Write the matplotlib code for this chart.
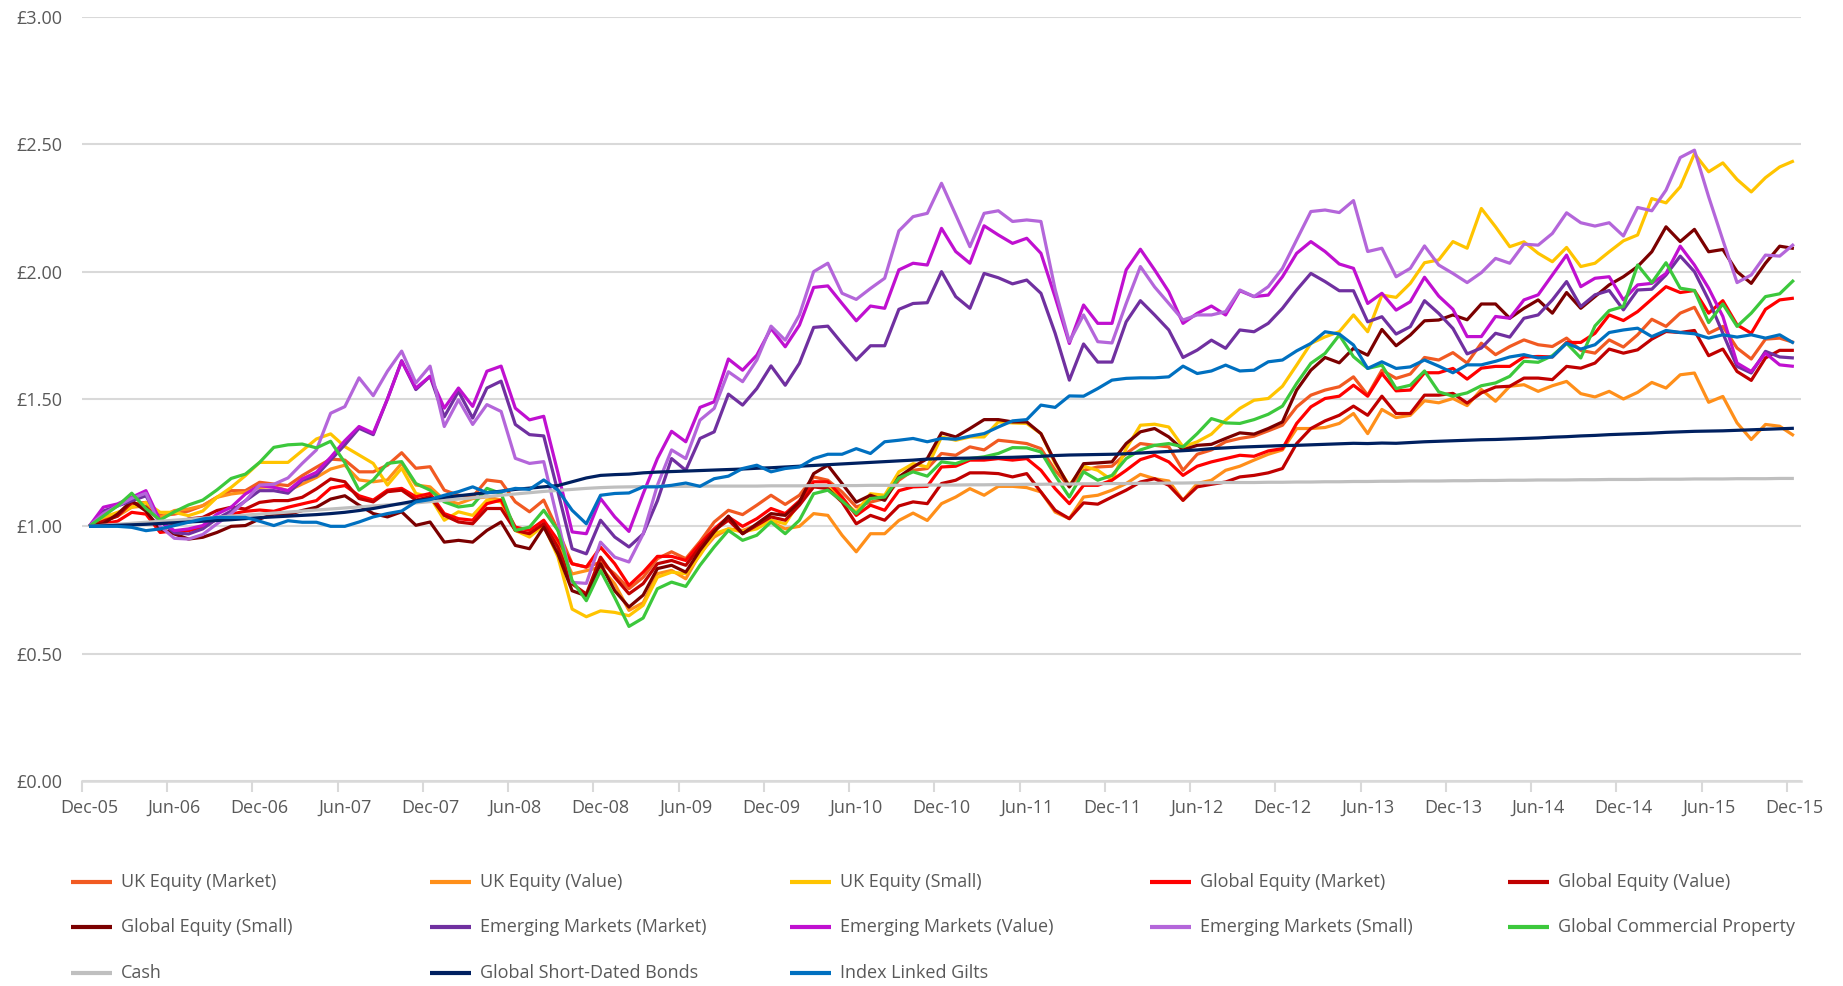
import numpy as np
import matplotlib
matplotlib.use("Agg")
import matplotlib.pyplot as plt
from matplotlib.lines import Line2D
from matplotlib.ticker import FixedLocator, FuncFormatter

# ---------------- data (monthly, Dec-05 .. Dec-15) ----------------
tick_labels = ["Dec-05", "Jun-06", "Dec-06", "Jun-07", "Dec-07", "Jun-08", "Dec-08",
               "Jun-09", "Dec-09", "Jun-10", "Dec-10", "Jun-11", "Dec-11", "Jun-12",
               "Dec-12", "Jun-13", "Dec-13", "Jun-14", "Dec-14", "Jun-15", "Dec-15"]

uk_market = [1.000,1.030,1.050,1.088,1.094,1.042,1.048,1.060,1.081,1.114,1.140,1.140,
             1.173,1.166,1.160,1.199,1.232,1.264,1.260,1.214,1.214,1.240,1.289,1.228,
             1.234,1.142,1.122,1.116,1.182,1.175,1.096,1.057,1.103,0.984,0.853,0.840,
             0.859,0.813,0.755,0.800,0.873,0.900,0.873,0.940,1.017,1.063,1.046,1.083,
             1.122,1.086,1.122,1.194,1.181,1.135,1.076,1.095,1.109,1.181,1.220,1.227,
             1.286,1.279,1.312,1.300,1.338,1.332,1.325,1.305,1.220,1.155,1.220,1.233,
             1.236,1.286,1.325,1.318,1.312,1.220,1.283,1.300,1.332,1.345,1.354,1.375,
             1.397,1.469,1.515,1.535,1.548,1.587,1.515,1.613,1.581,1.598,1.663,1.653,
             1.682,1.641,1.719,1.674,1.706,1.732,1.713,1.706,1.739,1.691,1.680,1.732,
             1.704,1.752,1.813,1.785,1.837,1.860,1.758,1.785,1.700,1.657,1.735,1.739,
             1.722]

uk_value = [1.000,1.020,1.040,1.075,1.080,1.035,1.062,1.068,1.081,1.114,1.127,1.134,
            1.153,1.156,1.140,1.166,1.192,1.225,1.240,1.182,1.175,1.182,1.247,1.162,
            1.155,1.103,1.089,1.109,1.116,1.103,0.984,0.971,1.004,0.930,0.813,0.826,
            0.840,0.774,0.670,0.700,0.814,0.827,0.794,0.893,0.958,0.990,0.984,1.004,
            1.017,0.990,1.000,1.050,1.043,0.965,0.900,0.971,0.971,1.023,1.052,1.023,
            1.089,1.115,1.148,1.122,1.157,1.157,1.152,1.135,1.056,1.030,1.115,1.122,
            1.142,1.168,1.204,1.187,1.178,1.102,1.168,1.181,1.220,1.236,1.260,1.283,
            1.300,1.384,1.384,1.388,1.404,1.443,1.364,1.459,1.427,1.436,1.493,1.485,
            1.502,1.474,1.537,1.491,1.550,1.556,1.530,1.552,1.569,1.521,1.508,1.530,
            1.500,1.526,1.565,1.543,1.595,1.602,1.487,1.510,1.406,1.341,1.400,1.393,
            1.356]

uk_small = [1.000,1.035,1.055,1.075,1.094,1.055,1.055,1.042,1.060,1.114,1.153,1.199,
            1.251,1.251,1.251,1.297,1.343,1.363,1.313,1.280,1.247,1.162,1.228,1.129,
            1.116,1.024,1.057,1.043,1.103,1.096,0.984,0.958,1.004,0.880,0.675,0.645,
            0.668,0.662,0.649,0.690,0.800,0.820,0.814,0.886,0.971,0.990,0.978,0.990,
            1.024,1.010,1.095,1.155,1.161,1.100,1.056,1.128,1.122,1.214,1.246,1.233,
            1.351,1.338,1.351,1.351,1.410,1.406,1.404,1.364,1.246,1.161,1.236,1.220,
            1.181,1.305,1.397,1.401,1.390,1.312,1.332,1.362,1.417,1.463,1.495,1.502,
            1.550,1.633,1.718,1.744,1.764,1.830,1.764,1.908,1.899,1.954,2.035,2.046,
            2.118,2.092,2.248,2.176,2.098,2.117,2.072,2.039,2.095,2.020,2.033,2.078,
            2.121,2.144,2.287,2.270,2.333,2.463,2.392,2.427,2.362,2.313,2.369,2.411,
            2.435]

global_market = [1.000,1.010,1.020,1.055,1.048,0.976,0.983,0.983,0.996,1.029,1.048,1.059,
                 1.064,1.059,1.075,1.088,1.101,1.150,1.160,1.120,1.103,1.142,1.149,1.116,
                 1.129,1.050,1.030,1.024,1.089,1.103,0.997,0.984,1.024,0.945,0.853,0.840,
                 0.918,0.853,0.768,0.820,0.882,0.882,0.866,0.932,0.990,1.037,1.000,1.030,
                 1.070,1.050,1.100,1.175,1.175,1.115,1.043,1.083,1.063,1.140,1.155,1.157,
                 1.233,1.236,1.260,1.260,1.266,1.260,1.266,1.220,1.148,1.089,1.161,1.161,
                 1.181,1.220,1.262,1.279,1.253,1.200,1.236,1.253,1.266,1.279,1.275,1.296,
                 1.305,1.404,1.469,1.502,1.511,1.554,1.511,1.600,1.532,1.535,1.603,1.603,
                 1.620,1.578,1.621,1.628,1.628,1.665,1.667,1.665,1.722,1.722,1.758,1.830,
                 1.808,1.843,1.892,1.941,1.918,1.926,1.837,1.886,1.791,1.758,1.852,1.889,
                 1.896]

global_value = [1.000,1.020,1.040,1.094,1.075,1.022,1.009,1.029,1.035,1.062,1.075,1.068,
                1.094,1.101,1.101,1.114,1.147,1.186,1.175,1.109,1.096,1.136,1.142,1.103,
                1.116,1.043,1.017,1.010,1.070,1.070,0.984,0.971,1.010,0.918,0.774,0.734,
                0.879,0.800,0.735,0.775,0.853,0.866,0.847,0.919,0.984,1.024,0.971,1.004,
                1.037,1.024,1.083,1.155,1.148,1.095,1.010,1.043,1.024,1.080,1.096,1.089,
                1.168,1.181,1.210,1.210,1.207,1.194,1.207,1.135,1.063,1.030,1.092,1.087,
                1.115,1.142,1.174,1.187,1.161,1.102,1.155,1.165,1.174,1.194,1.200,1.210,
                1.227,1.325,1.384,1.414,1.436,1.472,1.436,1.511,1.443,1.443,1.515,1.515,
                1.522,1.484,1.524,1.547,1.550,1.582,1.582,1.576,1.628,1.621,1.641,1.696,
                1.680,1.693,1.735,1.765,1.761,1.769,1.670,1.696,1.608,1.573,1.661,1.691,
                1.691]

global_small = [1.000,1.010,1.048,1.100,1.060,0.990,0.970,0.950,0.957,0.976,1.000,1.003,
                1.029,1.048,1.046,1.062,1.075,1.107,1.120,1.083,1.050,1.037,1.057,1.004,
                1.017,0.938,0.945,0.938,0.984,1.017,0.925,0.912,0.997,0.892,0.747,0.727,
                0.853,0.747,0.683,0.730,0.834,0.847,0.820,0.906,0.978,1.040,0.971,1.010,
                1.050,1.043,1.095,1.207,1.240,1.168,1.095,1.122,1.102,1.194,1.233,1.266,
                1.367,1.351,1.384,1.419,1.419,1.410,1.410,1.364,1.253,1.155,1.246,1.249,
                1.253,1.325,1.371,1.384,1.351,1.300,1.318,1.322,1.345,1.367,1.362,1.384,
                1.410,1.535,1.613,1.663,1.642,1.699,1.672,1.773,1.709,1.751,1.807,1.810,
                1.830,1.811,1.873,1.873,1.817,1.856,1.889,1.837,1.918,1.856,1.902,1.948,
                1.980,2.020,2.078,2.176,2.118,2.166,2.078,2.087,2.000,1.954,2.033,2.100,
                2.091]

em_market = [1.000,1.060,1.080,1.100,1.120,1.020,0.975,0.970,0.990,1.030,1.060,1.100,
             1.140,1.140,1.130,1.180,1.200,1.260,1.320,1.385,1.360,1.500,1.650,1.537,
             1.589,1.430,1.530,1.425,1.543,1.570,1.400,1.360,1.355,1.135,0.912,0.892,
             1.024,0.958,0.919,0.970,1.100,1.266,1.220,1.345,1.371,1.519,1.476,1.541,
             1.630,1.554,1.640,1.781,1.786,1.718,1.653,1.709,1.709,1.852,1.875,1.878,
             2.000,1.902,1.856,1.993,1.976,1.952,1.967,1.915,1.758,1.574,1.716,1.645,
             1.645,1.803,1.886,1.830,1.771,1.663,1.692,1.731,1.699,1.771,1.764,1.797,
             1.856,1.928,1.993,1.961,1.925,1.925,1.803,1.823,1.755,1.784,1.886,1.836,
             1.777,1.677,1.700,1.758,1.743,1.817,1.830,1.889,1.961,1.863,1.909,1.926,
             1.850,1.928,1.931,1.987,2.061,2.000,1.889,1.758,1.628,1.602,1.687,1.665,
             1.661]

em_value = [1.000,1.075,1.088,1.114,1.140,1.022,0.983,0.990,1.003,1.048,1.075,1.127,
            1.160,1.153,1.140,1.186,1.212,1.271,1.336,1.392,1.366,1.500,1.649,1.543,
            1.589,1.464,1.543,1.471,1.609,1.629,1.464,1.418,1.432,1.210,0.978,0.971,
            1.109,1.037,0.980,1.128,1.266,1.373,1.332,1.467,1.489,1.657,1.613,1.672,
            1.777,1.705,1.790,1.938,1.944,1.875,1.807,1.865,1.856,2.007,2.033,2.026,
            2.170,2.079,2.033,2.180,2.144,2.111,2.131,2.072,1.900,1.718,1.869,1.797,
            1.797,2.007,2.088,2.007,1.921,1.797,1.836,1.865,1.830,1.925,1.902,1.908,
            1.980,2.072,2.118,2.079,2.030,2.013,1.875,1.915,1.849,1.882,1.978,1.904,
            1.852,1.745,1.745,1.824,1.817,1.889,1.909,1.987,2.065,1.941,1.974,1.980,
            1.889,1.948,1.954,1.993,2.100,2.026,1.935,1.824,1.641,1.608,1.680,1.634,
            1.628]

em_small = [1.000,1.050,1.080,1.110,1.130,1.000,0.953,0.950,0.968,1.010,1.050,1.100,
            1.162,1.165,1.190,1.247,1.300,1.444,1.470,1.583,1.513,1.609,1.688,1.563,
            1.629,1.392,1.497,1.400,1.478,1.451,1.267,1.247,1.254,1.020,0.780,0.776,
            0.938,0.879,0.860,0.970,1.161,1.300,1.266,1.417,1.463,1.607,1.568,1.653,
            1.786,1.731,1.830,2.000,2.033,1.915,1.891,1.934,1.974,2.160,2.216,2.229,
            2.347,2.223,2.098,2.229,2.239,2.197,2.203,2.197,1.930,1.725,1.830,1.725,
            1.720,1.875,2.020,1.940,1.875,1.810,1.830,1.830,1.843,1.928,1.902,1.941,
            2.013,2.125,2.236,2.242,2.232,2.279,2.079,2.092,1.980,2.013,2.101,2.026,
            1.993,1.957,1.996,2.052,2.033,2.108,2.104,2.150,2.231,2.192,2.179,2.192,
            2.140,2.252,2.239,2.320,2.448,2.477,2.294,2.124,1.957,1.987,2.065,2.061,
            2.108]

commercial_property = [1.000,1.040,1.080,1.130,1.070,1.025,1.057,1.084,1.103,1.143,1.188,1.205,
                       1.251,1.310,1.320,1.323,1.308,1.334,1.250,1.142,1.182,1.247,1.254,1.168,
                       1.142,1.096,1.076,1.083,1.149,1.129,0.984,0.997,1.063,0.984,0.787,0.708,
                       0.826,0.720,0.607,0.640,0.755,0.781,0.764,0.847,0.919,0.984,0.945,0.965,
                       1.017,0.971,1.024,1.128,1.142,1.100,1.050,1.109,1.115,1.190,1.214,1.197,
                       1.253,1.246,1.266,1.273,1.286,1.309,1.308,1.292,1.200,1.115,1.214,1.181,
                       1.200,1.266,1.300,1.318,1.325,1.312,1.364,1.423,1.406,1.404,1.419,1.440,
                       1.472,1.561,1.640,1.679,1.751,1.666,1.620,1.633,1.541,1.554,1.610,1.528,
                       1.511,1.524,1.552,1.563,1.589,1.648,1.644,1.670,1.719,1.661,1.787,1.847,
                       1.863,2.026,1.957,2.035,1.935,1.926,1.800,1.873,1.785,1.837,1.902,1.913,
                       1.967]

cash = [1.000,1.004,1.008,1.012,1.016,1.020,1.024,1.028,1.032,1.036,1.040,1.044,
        1.048,1.052,1.056,1.060,1.064,1.068,1.072,1.076,1.080,1.084,1.088,1.092,
        1.097,1.102,1.107,1.112,1.117,1.122,1.127,1.132,1.137,1.141,1.145,1.149,
        1.152,1.154,1.155,1.156,1.157,1.157,1.157,1.158,1.158,1.158,1.158,1.158,
        1.159,1.159,1.159,1.160,1.160,1.160,1.160,1.161,1.161,1.161,1.161,1.162,
        1.162,1.162,1.163,1.163,1.164,1.164,1.165,1.165,1.166,1.166,1.167,1.167,
        1.168,1.168,1.169,1.169,1.170,1.170,1.171,1.171,1.172,1.172,1.172,1.173,
        1.173,1.174,1.174,1.175,1.175,1.176,1.176,1.177,1.177,1.178,1.178,1.178,
        1.179,1.179,1.180,1.180,1.181,1.181,1.182,1.182,1.182,1.183,1.183,1.184,
        1.184,1.184,1.185,1.185,1.185,1.186,1.186,1.186,1.187,1.187,1.187,1.188,
        1.188]

short_bonds = [1.000,1.002,1.004,1.006,1.008,1.011,1.014,1.017,1.020,1.023,1.026,1.030,
               1.034,1.037,1.040,1.043,1.046,1.050,1.055,1.062,1.070,1.080,1.090,1.100,
               1.108,1.114,1.120,1.126,1.132,1.138,1.145,1.150,1.155,1.160,1.175,1.190,
               1.200,1.203,1.205,1.210,1.213,1.215,1.217,1.219,1.221,1.223,1.225,1.228,
               1.230,1.233,1.236,1.239,1.242,1.245,1.248,1.251,1.254,1.257,1.260,1.264,
               1.266,1.267,1.268,1.269,1.270,1.271,1.273,1.275,1.278,1.280,1.281,1.282,
               1.283,1.285,1.288,1.291,1.294,1.297,1.300,1.305,1.308,1.311,1.313,1.315,
               1.317,1.318,1.320,1.322,1.324,1.326,1.325,1.327,1.326,1.329,1.332,1.334,
               1.336,1.338,1.340,1.341,1.343,1.345,1.347,1.350,1.352,1.355,1.357,1.360,
               1.362,1.364,1.366,1.369,1.371,1.373,1.374,1.375,1.377,1.379,1.381,1.383,
               1.385]

index_linked = [1.000,1.000,1.000,0.996,0.983,0.990,1.003,1.016,1.029,1.035,1.035,1.035,
                1.020,1.003,1.022,1.016,1.016,1.000,1.000,1.017,1.037,1.050,1.060,1.096,
                1.105,1.122,1.136,1.155,1.132,1.136,1.149,1.145,1.182,1.142,1.063,1.010,
                1.122,1.129,1.131,1.155,1.155,1.161,1.170,1.157,1.187,1.197,1.227,1.240,
                1.214,1.227,1.233,1.266,1.283,1.283,1.305,1.286,1.332,1.338,1.345,1.332,
                1.345,1.342,1.354,1.364,1.390,1.414,1.419,1.476,1.467,1.512,1.511,1.541,
                1.574,1.581,1.583,1.583,1.587,1.629,1.600,1.610,1.633,1.610,1.613,1.646,
                1.653,1.689,1.718,1.764,1.755,1.712,1.620,1.646,1.620,1.626,1.653,1.629,
                1.603,1.634,1.634,1.648,1.665,1.674,1.661,1.665,1.719,1.696,1.713,1.761,
                1.771,1.778,1.745,1.769,1.761,1.756,1.739,1.752,1.743,1.752,1.739,1.752,
                1.719]

series_names = ["UK Equity (Market)", "UK Equity (Value)", "UK Equity (Small)",
                "Global Equity (Market)", "Global Equity (Value)", "Global Equity (Small)",
                "Emerging Markets (Market)", "Emerging Markets (Value)", "Emerging Markets (Small)",
                "Global Commercial Property", "Cash", "Global Short-Dated Bonds", "Index Linked Gilts"]
series_values = [uk_market, uk_value, uk_small, global_market, global_value, global_small,
                 em_market, em_value, em_small, commercial_property, cash, short_bonds, index_linked]
series_colors = ["#F15A22", "#FF8F1A", "#FFC400", "#FF0000", "#C00000", "#7B0000",
                 "#7030A0", "#C010D0", "#B466DA", "#3CC83C", "#BFBFBF", "#002060", "#0070C0"]

# ---------------- figure ----------------
FONT = ["Open Sans", "DejaVu Sans"]
TXT = "#595959"
GRID = "#D9D9D9"

fig = plt.figure(figsize=(18.43, 9.86), dpi=100)
ax = fig.add_axes([0.0445, 0.2079, 0.9327, 0.7749])

for name, vals, col in zip(series_names, series_values, series_colors):
    xs = np.arange(len(vals))
    ax.plot(xs, vals, color=col, lw=2.3, solid_joinstyle="round", solid_capstyle="butt", zorder=3)

n = len(uk_market)
ax.set_xlim(-0.5, n - 0.5)
ax.set_ylim(0, 3)

ax.yaxis.set_major_locator(FixedLocator(np.arange(0, 3.01, 0.5)))
ax.yaxis.set_major_formatter(FuncFormatter(lambda v, p: "£{:.2f}".format(v)))
ax.grid(axis="y", color=GRID, lw=1.5, zorder=0)
ax.set_axisbelow(True)

major_pos = np.arange(0, n, 6)
ax.xaxis.set_major_locator(FixedLocator(major_pos))
ax.set_xticklabels(tick_labels)
ax.xaxis.set_minor_locator(FixedLocator(np.arange(-0.5, n, 6)))
ax.tick_params(axis="x", which="major", length=0, pad=13, labelsize=13, labelcolor=TXT)
ax.tick_params(axis="x", which="minor", length=8, width=1.5, color=GRID)
ax.tick_params(axis="y", length=0, pad=14, labelsize=13, labelcolor=TXT)
for lab in ax.get_xticklabels() + ax.get_yticklabels():
    lab.set_family(FONT)

for s in ["top", "right", "left"]:
    ax.spines[s].set_visible(False)
ax.spines["bottom"].set_color(GRID)
ax.spines["bottom"].set_linewidth(1.8)
ax.spines["bottom"].set_zorder(1)

# ---------------- legend (5 columns, row-major) ----------------
W, H = 1843.0, 986.0
col_x = [70.5, 430.0, 790.0, 1149.5, 1508.0]
row_y = [882.0, 927.0, 973.0]
for i, (name, col) in enumerate(zip(series_names, series_colors)):
    r, c = divmod(i, 5)
    x0 = col_x[c]
    y0 = row_y[r]
    fig.add_artist(Line2D([x0 / W, (x0 + 41) / W], [1 - y0 / H, 1 - y0 / H],
                          color=col, lw=3.0, solid_capstyle="butt", transform=fig.transFigure))
    fig.text((x0 + 50) / W, 1 - y0 / H, name, family=FONT, fontsize=13, color=TXT,
             va="center", ha="left")

fig.savefig("out.png", dpi=100, facecolor="white")
